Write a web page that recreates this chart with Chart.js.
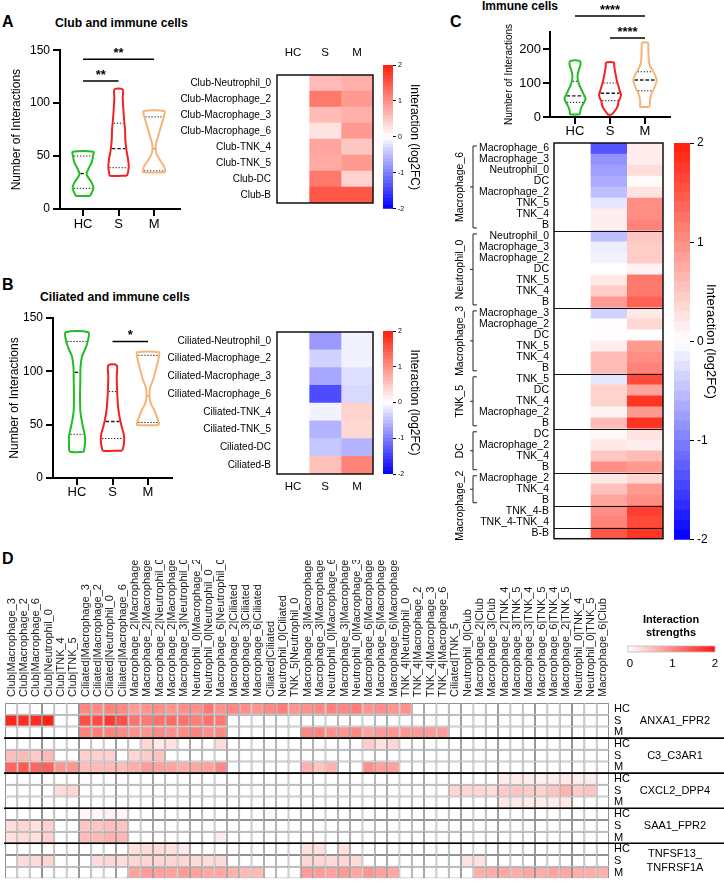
<!DOCTYPE html>
<html><head><meta charset="utf-8">
<script src="https://cdn.jsdelivr.net/npm/chart.js@4.4.1/dist/chart.umd.min.js"></script>
<style>
body{margin:0;width:724px;height:890px;position:relative;background:#fff;overflow:hidden;font-family:"Liberation Sans",Arial,sans-serif}
canvas{position:absolute}
.t{position:absolute;font-weight:bold;white-space:nowrap;color:#000;line-height:1}
</style></head><body>
<div class="t" style="left:2px;top:14px;font-size:16px">A</div>
<div class="t" style="left:55px;top:17px;font-size:12.2px">Club and immune cells</div>
<div class="t" style="left:2px;top:277px;font-size:16px">B</div>
<div class="t" style="left:40px;top:291px;font-size:12.2px">Ciliated and immune cells</div>
<div class="t" style="left:450px;top:14px;font-size:16px">C</div>
<div class="t" style="left:482px;top:0px;font-size:12px">Immune cells</div>
<div class="t" style="left:2px;top:551px;font-size:16px">D</div>

<canvas id="vA" width="200" height="200" style="left:0;top:40px"></canvas>
<canvas id="hA" width="220" height="175" style="left:160px;top:40px"></canvas>
<canvas id="cA" width="45" height="160" style="left:380px;top:55px"></canvas>
<canvas id="vB" width="200" height="200" style="left:0;top:305px"></canvas>
<canvas id="hB" width="220" height="180" style="left:160px;top:320px"></canvas>
<canvas id="cB" width="45" height="160" style="left:380px;top:321px"></canvas>
<canvas id="vC" width="200" height="145" style="left:490px;top:0"></canvas>
<canvas id="hC" width="230" height="420" style="left:440px;top:130px"></canvas>
<canvas id="cC" width="59" height="420" style="left:665px;top:130px"></canvas>
<canvas id="hD" width="724" height="330" style="left:0;top:560px"></canvas>

<script>
// ---------------- DATA ----------------
const groupLabels = ['HC','S','M'];
const groupColors = ['#22bd22','#f22222','#f5b577'];

// Panel A violins: value levels (y) and half-widths (x units)
const vA_HC_y = [12.3,13,16,19,22,26,30,33,36,40,45,50,54];
const vA_HC_w = [0.197,0.211,0.254,0.29,0.282,0.225,0.141,0.099,0.127,0.183,0.254,0.282,0.29];
const vA_S_y  = [31.5,35,40,47,55,65,75,85,95,105,113];
const vA_S_w  = [0.239,0.268,0.287,0.268,0.225,0.192,0.183,0.155,0.135,0.118,0.113];
const vA_M_y  = [34.6,36,40,46,52,57,62,70,80,88,92.5];
const vA_M_w  = [0.31,0.315,0.282,0.169,0.07,0.045,0.056,0.127,0.211,0.282,0.29];
const qA = [[19.5,33.5,50],[39,57,81],[36,57,87]];
const sigA = [{from:1,to:2,y:121,label:'**'},{from:1,to:3,y:141.5,label:'**'}];

// Panel B violins
const vB_HC_y = [24.7,32,39,48,61,76,92,104,114,121,129,136.6];
const vB_HC_w = [0.197,0.225,0.225,0.169,0.099,0.085,0.093,0.099,0.141,0.234,0.31,0.318];
const vB_S_y  = [25.6,28,33,40,47,55,65,75,85,95,105.6];
const vB_S_w  = [0.268,0.296,0.324,0.324,0.268,0.211,0.163,0.141,0.127,0.118,0.118];
const vB_M_y  = [49.7,52,57,64,70,77,85,92,104,113,117.8];
const vB_M_w  = [0.31,0.304,0.254,0.169,0.079,0.042,0.062,0.141,0.239,0.304,0.304];
const qB = [[41,99,128],[37,53,81],[52,77,115]];
const sigB = [{from:2,to:3,y:128,label:'*'}];

// Panel C violins
const vC_HC_y = [8,15,25,35,45,55,65,80,95,110,125,140,155,165];
const vC_HC_w = [0.143,0.149,0.171,0.214,0.271,0.3,0.257,0.186,0.12,0.08,0.077,0.114,0.157,0.129];
const vC_S_y  = [7,15,25,35,45,55,65,75,90,105,120,135,150,160];
const vC_S_w  = [0.057,0.114,0.186,0.229,0.243,0.286,0.314,0.286,0.243,0.2,0.171,0.143,0.12,0.114];
const vC_M_y  = [30,40,55,68,80,95,108,120,135,150,165,185,205,218];
const vC_M_w  = [0.137,0.137,0.149,0.186,0.243,0.3,0.334,0.3,0.229,0.143,0.109,0.1,0.094,0.086];
const qC = [[43,62,105],[48,70,100],[77,109,133]];
const sigC = [{from:1,to:3,y:297,label:'****'},{from:2,to:3,y:232,label:'****'}];

// Panel A heatmap (log2FC)
const heatA_rows = ['Club-Neutrophil_0','Club-Macrophage_2','Club-Macrophage_3','Club-Macrophage_6','Club-TNK_4','Club-TNK_5','Club-DC','Club-B'];
const heatA_HC = [0,0,0,0,0,0,0,0];
const heatA_S  = [0.6,1.2,0.6,0.25,0.8,0.75,1.2,1.5];
const heatA_M  = [0.7,0.9,0.7,0.9,0.5,0.9,0.4,1.5];

// Panel B heatmap
const heatB_rows = ['Ciliated-Neutrophil_0','Ciliated-Macrophage_2','Ciliated-Macrophage_3','Ciliated-Macrophage_6','Ciliated-TNK_4','Ciliated-TNK_5','Ciliated-DC','Ciliated-B'];
const heatB_HC = [0,0,0,0,0,0,0,0];
const heatB_S  = [-0.8,-0.35,-0.7,-1.4,-0.1,-0.6,-0.45,0.55];
const heatB_M  = [-0.1,-0.1,-0.25,-0.3,0.4,0.35,-0.6,1.1];

// Panel C heatmap
const heatC_rows = ['Macrophage_6','Macrophage_3','Neutrophil_0','DC','Macrophage_2','TNK_5','TNK_4','B',
  'Neutrophil_0','Macrophage_3','Macrophage_2','DC','TNK_5','TNK_4','B',
  'Macrophage_3','Macrophage_2','DC','TNK_5','TNK_4','B',
  'TNK_5','DC','TNK_4','Macrophage_2','B',
  'DC','Macrophage_2','TNK_4','B',
  'Macrophage_2','TNK_4','B',
  'TNK_4-B','TNK_4-TNK_4','B-B'];
const heatC_HC = [0,0,0,0,0,0,0,0, 0,0,0,0,0,0,0, 0,0,0,0,0,0, 0,0,0,0,0, 0,0,0,0, 0,0,0, 0,0, 0];
const heatC_S  = [-1.35,-0.85,-0.75,-0.65,-0.5,-0.2,0.15,0.15, -0.5,-0.15,-0.1,0.0,0.2,0.45,0.9, -0.35,0.02,0.02,0.15,0.6,0.6, -0.2,0.4,0.4,0.1,0.6, 0.05,0.2,0.5,1.0, 0.2,0.55,0.8, 1.0,1.1, 1.5];
const heatC_M  = [0.15,0.15,0.3,0.05,0.25,1.0,1.0,1.1, 0.5,0.45,0.45,0.1,1.2,1.2,1.4, 0.2,0.35,0.0,0.9,1.0,1.1, 1.6,0.8,1.8,0.9,1.8, 0.25,0.15,0.6,0.9, 0.35,0.9,1.0, 1.7,1.6, 1.8];
const heatC_groupNames = ['Macrophage_6','Neutrophil_0','Macrophage_3','TNK_5','DC','Macrophage_2'];
const heatC_groupSizes = [8,7,6,5,4,3];
const heatC_groupLabelRows = [8,7,6,5,4,6];
const heatC_blockSizes = [8,7,6,5,4,3,2,1];

// Panel D
const dCols = ['Club|Macrophage_3','Club|Macrophage_2','Club|Macrophage_6','Club|Neutrophil_0','Club|TNK_4','Club|TNK_5',
 'Ciliated|Macrophage_3','Ciliated|Macrophage_2','Ciliated|Neutrophil_0','Ciliated|Macrophage_6',
 'Macrophage_2|Macrophage_3','Macrophage_2|Macrophage_2','Macrophage_2|Neutrophil_0','Macrophage_2|Macrophage_6',
 'Macrophage_3|Neutrophil_0','Neutrophil_0|Macrophage_2','Neutrophil_0|Neutrophil_0','Macrophage_6|Neutrophil_0',
 'Macrophage_2|Ciliated','Macrophage_3|Ciliated','Macrophage_6|Ciliated','Ciliated|Ciliated','Neutrophil_0|Ciliated',
 'TNK_5|Neutrophil_0','Macrophage_3|Macrophage_2','Macrophage_3|Macrophage_6','Neutrophil_0|Macrophage_6',
 'Macrophage_3|Macrophage_3','Neutrophil_0|Macrophage_3','Macrophage_6|Macrophage_2','Macrophage_6|Macrophage_3',
 'Macrophage_6|Macrophage_6','TNK_4|Neutrophil_0','TNK_4|Macrophage_2','TNK_4|Macrophage_3','TNK_4|Macrophage_6',
 'Ciliated|TNK_5','Neutrophil_0|Club','Macrophage_2|Club','Macrophage_3|Club','Macrophage_2|TNK_4',
 'Macrophage_3|TNK_5','Macrophage_3|TNK_4','Macrophage_6|TNK_5','Macrophage_6|TNK_4','Macrophage_2|TNK_5',
 'Neutrophil_0|TNK_4','Neutrophil_0|TNK_5','Macrophage_6|Club'];
const dGenes = [['ANXA1_FPR2'],['C3_C3AR1'],['CXCL2_DPP4'],['SAA1_FPR2'],['TNFSF13_','TNFRSF1A']];
const dRowLabels = ['HC','S','M','HC','S','M','HC','S','M','HC','S','M','HC','S','M'];
const dANXA1_HC = [0,0,0,0,0,0,1.0,1.0,1.05,1.0, 0.85,0.9,0.95,0.9,0.95,0.95,1.15,0.95,1.0,0.95, 0.9,1.0,1.1,0.9,0.95,1.0,1.05,1.0,1.1,0.9, 0.95,0.9,0.95,0,0,0,0,0,0,0, 0,0,0,0,0,0,0,0,0];
const dANXA1_S  = [1.85,1.8,1.8,1.9,0,0,1.5,1.55,1.7,1.5, 1.2,1.15,1.2,1.25,1.2,1.1,1.2,1.15,0,0, 0,0,0,0,0,0,0,0,0,0, 0,0,0,0,0,0,0,0,0,0, 0,0,0,0,0,0,0,0,0];
const dANXA1_M  = [0,0,0,0,0,0,1.05,1.1,1.05,1.0, 0.95,0.9,1.0,0.95,1.0,1.05,0.95,1.0,0,0, 0,0,0,0,1.0,1.05,0.95,0.9,1.0,0.8, 0.85,0.9,0.9,0.85,0.85,0.85,0,0,0,0, 0,0,0,0,0,0,0,0,0];
const dC3_HC    = [0,0,0,0,0,0,0,0,0,0, 0,0.35,0.2,0.25,0,0,0,0.3,0,0, 0,0,0,0,0,0,0,0,0,0.45, 0.25,0.35,0,0,0,0,0,0,0,0, 0,0,0,0,0,0,0,0,0];
const dC3_S     = [0.55,0.6,0.45,0.6,0,0,0.4,0.4,0.4,0, 0.35,0.45,0.5,0,0,0,0,0,0,0, 0,0,0,0,0,0,0,0,0,0, 0,0,0,0,0,0,0,0,0,0, 0,0,0,0,0,0,0,0,0];
const dC3_M     = [1.3,1.4,1.3,1.35,0.9,0.9,0.55,0.6,0.6,0.55, 0.7,0.85,0.8,0.8,0.7,0.75,0.8,1.0,0,0, 0,0,0,0,0.65,0.5,0.65,0,0,0.95, 0.8,0.8,0,0,0,0,0,0,0,0, 0,0,0,0,0,0,0,0,0];
const dCXCL2_HC = [0,0,0,0,0,0,0,0,0,0, 0,0,0,0,0,0,0,0,0,0, 0,0,0,0,0,0,0,0,0,0, 0,0,0,0,0,0,0,0,0,0, 0.15,0.18,0.15,0.12,0.15,0.18,0.15,0.15,0];
const dCXCL2_S  = [0,0,0,0,0.3,0.35,0,0,0,0, 0,0,0,0,0,0,0,0,0,0, 0,0,0,0,0,0,0,0,0,0, 0,0,0,0,0,0,0.35,0.35,0.35,0.3, 0.45,0.5,0.45,0.4,0.5,0.65,0.45,0.5,0];
const dCXCL2_M  = [0,0,0,0,0,0,0,0,0,0, 0,0,0,0,0,0,0,0,0,0, 0,0,0,0,0,0,0,0,0,0, 0,0,0,0,0,0,0,0,0,0, 0.2,0.2,0.15,0.15,0.15,0.2,0,0,0];
const dSAA1_HC  = [0,0,0,0,0,0,0.08,0.08,0.12,0.08, 0,0,0,0,0,0,0,0,0,0, 0,0.06,0,0,0,0,0,0,0,0, 0,0,0,0,0,0,0,0,0,0, 0,0,0,0,0,0,0,0,0];
const dSAA1_S   = [0.3,0.35,0.25,0.4,0,0,0.5,0.5,0.55,0.5, 0,0,0,0,0,0,0,0,0,0, 0,0,0,0,0,0,0,0,0,0, 0,0,0,0,0,0,0,0,0,0, 0,0,0,0,0,0,0,0,0];
const dSAA1_M   = [0.25,0.3,0.25,0.4,0,0,0.55,0.6,0.65,0.6, 0,0,0,0,0,0,0,0.15,0,0, 0,0,0,0,0,0,0,0,0,0, 0,0,0,0,0,0,0,0,0,0, 0,0,0,0,0,0,0,0,0];
const dTNF_HC   = [0,0,0,0,0,0,0,0,0,0, 0.25,0.3,0.3,0.25,0.2,0,0,0,0,0, 0,0,0,0,0.25,0.25,0,0.25,0,0, 0,0,0,0,0,0,0,0,0,0, 0,0,0,0,0,0,0,0,0];
const dTNF_S    = [0,0.3,0.3,0.35,0,0,0,0.3,0.35,0.3, 0.35,0.35,0.35,0.35,0.35,0.3,0.3,0.3,0,0, 0,0,0,0,0.35,0.35,0.3,0.35,0.3,0, 0,0,0,0,0,0,0,0.25,0.25,0, 0,0,0,0,0,0,0,0,0];
const dTNF_M    = [0,0,0,0,0,0,0,0,0,0, 0.8,0.85,0.8,0.8,0.85,0.8,0.75,0.75,0.65,0.6, 0.6,0,0,0,0.85,0.85,0.8,0.85,0.75,0.9, 0.8,0.75,0,0,0,0,0,0,0.7,0.7, 0.75,0.7,0.75,0.7,0.8,0.75,0.7,0.7,0.65];

// ---------------- HELPERS ----------------
const FONT = '"Liberation Sans", Arial, Helvetica, sans-serif';
Chart.defaults.font.family = FONT;
Chart.defaults.color = '#000';
Chart.defaults.animation = false;

function colorFC(v){
  v = Math.max(-2, Math.min(2, v));
  if (v >= 0){ const t=v/2; return `rgb(255,${Math.round(255-225*t)},${Math.round(255-245*t)})`; }
  const t=-v/2; return `rgb(${Math.round(255-255*t)},${Math.round(255-255*t)},255)`;
}
function colorD(v){
  const t = Math.max(0, Math.min(1, v/2));
  return `rgb(255,${Math.round(255-235*t)},${Math.round(255-245*t)})`;
}
function fixedScale(size){ return s => { if (s.isHorizontal()) s.height = size; else s.width = size; }; }
function widthAt(g, q){
  for (let k=0;k<g.y.length-1;k++){
    if (q>=g.y[k] && q<=g.y[k+1]){ const t=(q-g.y[k])/(g.y[k+1]-g.y[k]); return g.w[k]+(g.w[k+1]-g.w[k])*t; }
  }
  return g.w[0];
}
function sigPlugin(items){
  return {id:'sig', afterDatasetsDraw(chart){
    const {ctx, scales:{x,y}} = chart;
    ctx.save(); ctx.font = `bold 13px ${FONT}`; ctx.fillStyle='#000'; ctx.textAlign='center'; ctx.textBaseline='alphabetic';
    items.forEach(s => ctx.fillText(s.label, (x.getPixelForValue(s.from)+x.getPixelForValue(s.to))/2, y.getPixelForValue(s.y)-2));
    ctx.restore();
  }};
}
function makeViolin(id, groups, quart, sigs, c){
  const datasets = [];
  groups.forEach((g,i)=>{
    const cx=i+1, pts=[];
    for (let k=0;k<g.y.length;k++) pts.push({x:cx+g.w[k], y:g.y[k]});
    for (let k=g.y.length-1;k>=0;k--) pts.push({x:cx-g.w[k], y:g.y[k]});
    pts.push({x:cx+g.w[0], y:g.y[0]});
    datasets.push({data:pts, borderColor:groupColors[i], borderWidth:2, pointRadius:0, tension:0.3, clip:false, fill:false, borderJoinStyle:'round'});
    quart[i].forEach((q,j)=>{
      const hw = Math.max(0.01, widthAt(g,q)-0.03);
      datasets.push({data:[{x:cx-hw,y:q},{x:cx+hw,y:q}], borderColor:'#1a1a1a', borderWidth: j===1?1.4:1, borderDash: j===1?[3.5,2]:[1.3,1.7], pointRadius:0, tension:0, clip:false});
    });
  });
  sigs.forEach(s => datasets.push({data:[{x:s.from,y:s.y},{x:s.to,y:s.y}], borderColor:'#000', borderWidth:1.5, pointRadius:0, tension:0, clip:false}));
  const axisGrid = {display:true, drawOnChartArea:false, drawTicks:true, tickLength:7, color:'#000', lineWidth:2};
  return new Chart(document.getElementById(id), {type:'line', data:{datasets}, options:{
    responsive:false, animation:false,
    layout:{padding:{top:c.padTop, right:c.padRight, left:0, bottom:0}},
    plugins:{legend:{display:false}, tooltip:{enabled:false}},
    scales:{
      x:{type:'linear', min:c.xMin, max:c.xMax,
         afterBuildTicks: s => { s.ticks = [1,2,3].map(v=>({value:v})); },
         ticks:{callback:(v,i)=>groupLabels[i], font:{size:c.xFont}, color:'#000', padding:c.xPad, autoSkip:false, maxRotation:0},
         grid:axisGrid, border:{display:true, color:'#000', width:2}, afterFit:fixedScale(c.xAxisH)},
      y:{type:'linear', min:0, max:c.yMax,
         ticks:{stepSize:c.yStep, font:{size:c.yFont}, color:'#000', padding:c.yPad},
         grid:axisGrid, border:{display:true, color:'#000', width:2},
         title:{display:true, text:'Number of Interactions', font:{size:c.titleSize}, color:'#000', padding:{top:c.titlePad, bottom:0}},
         afterFit:fixedScale(c.yAxisW)}
    }}, plugins:[sigPlugin(sigs)]});
}
const framePlugin = {id:'frame', afterDatasetsDraw(chart){
  const {ctx, chartArea:a} = chart; ctx.save(); ctx.strokeStyle='#111'; ctx.lineWidth=1.5;
  ctx.strokeRect(a.left, a.top, a.right-a.left, a.bottom-a.top); ctx.restore();
}};
function makeHeat(id, rows, cols, c, extra){
  const datasets = cols.map(vals => ({data: vals.map(()=>1), backgroundColor: vals.map(colorFC), borderWidth:0, barPercentage:1, categoryPercentage:1}));
  return new Chart(document.getElementById(id), {type:'bar', data:{labels:rows, datasets}, options:{
    indexAxis:'y', responsive:false, animation:false,
    layout:{padding:c.pad},
    plugins:{legend:{display:false}, tooltip:{enabled:false}},
    scales:{
      x:{type:'linear', position:c.colPos, stacked:true, min:0, max:3, display:c.showCols,
         afterBuildTicks: s => { s.ticks = [0.5,1.5,2.5].map(v=>({value:v})); },
         ticks:{callback:(v,i)=>groupLabels[i], font:{size:11.5}, color:'#000', padding:c.colPad, autoSkip:false, maxRotation:0},
         grid:{display:false, drawTicks:false}, border:{display:false}, afterFit:fixedScale(c.colH)},
      y:{type:'category', stacked:true,
         ticks:{autoSkip:false, font:{size:c.rowFont}, color:'#000', padding:c.rowPad},
         grid:{display:false, drawTicks:false}, border:{display:false}, afterFit:fixedScale(c.rowW)}
    }}, plugins:[framePlugin].concat(extra||[])});
}
function makeColorbar(id, c){
  const datasets = [];
  for (let i=0;i<40;i++){ const lo=-2+i*0.1; datasets.push({data:[[lo,lo+0.1]], backgroundColor:colorFC(lo+0.05), borderWidth:0, grouped:false, barPercentage:1, categoryPercentage:1}); }
  datasets.push({data:[[1.95,2]], backgroundColor:'#1a1aff', borderWidth:0, grouped:false, barPercentage:1, categoryPercentage:1});
  return new Chart(document.getElementById(id), {type:'bar', data:{labels:[''], datasets}, options:{
    responsive:false, animation:false, layout:{padding:c.pad},
    plugins:{legend:{display:false}, tooltip:{enabled:false}},
    scales:{
      x:{display:false},
      y:{position:'right', min:-2, max:2, ticks:{stepSize:1, font:{size:c.tickFont}, color:'#000', padding:c.tickPad},
         grid:{display:true, drawOnChartArea:false, tickLength:c.tickLen, color:'#000', lineWidth:1}, border:{display:false},
         title:{display:true, text:'Interaction (log2FC)', font:{size:c.titleFont}, color:'#000', padding:{top:c.titlePad, bottom:0}},
         afterFit:fixedScale(c.axisW)}
    }}});
}

// ---------------- PANEL A ----------------
makeViolin('vA', [{y:vA_HC_y,w:vA_HC_w},{y:vA_S_y,w:vA_S_w},{y:vA_M_y,w:vA_M_w}], qA, sigA,
  {padTop:10, padRight:20, xMin:0.352, xMax:3.73, xFont:13, xPad:1, xAxisH:31, yMax:150, yStep:50, yFont:12, yPad:3, titleSize:12, titlePad:9, yAxisW:60});
makeHeat('hA', heatA_rows, [heatA_HC, heatA_S, heatA_M],
  {pad:{top:0,right:7,bottom:6,left:0}, colPos:'top', showCols:true, colPad:15, colH:35, rowFont:10, rowPad:6, rowW:117});
makeColorbar('cA', {pad:{top:10,right:0,bottom:6,left:3}, tickFont:7, tickPad:2, tickLen:3, titleFont:12, titlePad:3, axisW:32});

// ---------------- PANEL B ----------------
makeViolin('vB', [{y:vB_HC_y,w:vB_HC_w},{y:vB_S_y,w:vB_S_w},{y:vB_M_y,w:vB_M_w}], qB, sigB,
  {padTop:13, padRight:28, xMin:0.324, xMax:3.676, xFont:13, xPad:0, xAxisH:27, yMax:150, yStep:50, yFont:12, yPad:3, titleSize:12, titlePad:7, yAxisW:53});
makeHeat('hB', heatB_rows, [heatB_HC, heatB_S, heatB_M],
  {pad:{top:12,right:7,bottom:0,left:0}, colPos:'bottom', showCols:true, colPad:6, colH:26, rowFont:10, rowPad:6, rowW:117});
makeColorbar('cB', {pad:{top:10,right:0,bottom:7,left:3}, tickFont:7, tickPad:2, tickLen:3, titleFont:12, titlePad:3, axisW:32});

// ---------------- PANEL C ----------------
makeViolin('vC', [{y:vC_HC_y,w:vC_HC_w},{y:vC_S_y,w:vC_S_w},{y:vC_M_y,w:vC_M_w}], qC, sigC,
  {padTop:32, padRight:20, xMin:0.286, xMax:3.714, xFont:13, xPad:0, xAxisH:28, yMax:250, yStep:50, yFont:13, yPad:2, titleSize:10, titlePad:13, yAxisW:60});

const heatCPlugin = {id:'heatC', afterDatasetsDraw(chart){
  const {ctx, chartArea:a, scales:{y}} = chart;
  const band = y.getPixelForValue(1) - y.getPixelForValue(0);
  const top = i => y.getPixelForValue(i) - band/2;
  ctx.save();
  ctx.strokeStyle='#111'; ctx.lineWidth=1;
  let acc = 0;
  heatC_blockSizes.slice(0,-1).forEach(n => { acc += n; const yy = Math.round(top(acc))+0.5; ctx.beginPath(); ctx.moveTo(a.left, yy); ctx.lineTo(a.right, yy); ctx.stroke(); });
  const xb = a.left - 81;
  let s = 0;
  ctx.lineWidth = 1; ctx.strokeStyle = '#222';
  heatC_groupNames.forEach((name, gi) => {
    const y0 = top(s) + 3, y1 = top(s + heatC_groupSizes[gi]) - 3, ym = (y0+y1)/2;
    ctx.beginPath();
    ctx.moveTo(xb+4, y0); ctx.lineTo(xb, y0); ctx.lineTo(xb, y1); ctx.lineTo(xb+4, y1);
    ctx.moveTo(xb, ym); ctx.lineTo(xb-3, ym);
    ctx.stroke();
    const yl = (top(s) + top(s + heatC_groupLabelRows[gi])) / 2;
    ctx.save(); ctx.translate(xb-13, yl); ctx.rotate(-Math.PI/2);
    ctx.font = `10.5px ${FONT}`; ctx.fillStyle = '#000'; ctx.textAlign='center'; ctx.textBaseline='middle';
    ctx.fillText(name, 0, 0); ctx.restore();
    s += heatC_groupSizes[gi];
  });
  ctx.restore();
}};
makeHeat('hC', heatC_rows, [heatC_HC, heatC_S, heatC_M],
  {pad:{top:13,right:7,bottom:10,left:0}, colPos:'top', showCols:false, colPad:0, colH:0, rowFont:10.5, rowPad:5, rowW:114}, [heatCPlugin]);
makeColorbar('cC', {pad:{top:13,right:0,bottom:10,left:9}, tickFont:12, tickPad:3, tickLen:4, titleFont:13, titlePad:6, axisW:34});

// ---------------- PANEL D ----------------
const dRows = [dANXA1_HC,dANXA1_S,dANXA1_M, dC3_HC,dC3_S,dC3_M, dCXCL2_HC,dCXCL2_S,dCXCL2_M, dSAA1_HC,dSAA1_S,dSAA1_M, dTNF_HC,dTNF_S,dTNF_M];
const dPlugin = {id:'dDecor', afterDatasetsDraw(chart){
  const {ctx, chartArea:a, scales:{x,y}} = chart;
  ctx.save();
  ctx.font = `11px ${FONT}`; ctx.fillStyle='#1a1a1a'; ctx.textAlign='left'; ctx.textBaseline='middle';
  dCols.forEach((lab,i) => { ctx.save(); ctx.translate(x.getPixelForValue(i)+0.5, a.top-6); ctx.rotate(-Math.PI/2); ctx.fillText(lab,0,0); ctx.restore(); });
  ctx.strokeStyle='#000'; ctx.lineWidth=1.6;
  [3,6,9,12].forEach(r => { const yy=y.getPixelForValue(r); ctx.beginPath(); ctx.moveTo(a.left-1,yy); ctx.lineTo(chart.width,yy); ctx.stroke(); });
  ctx.fillStyle='#000'; ctx.textAlign='center'; ctx.font=`11px ${FONT}`;
  dGenes.forEach((lines,gi) => { const yc=y.getPixelForValue(gi*3+1.5); lines.forEach((ln,li)=>ctx.fillText(ln, 675, yc + (li-(lines.length-1)/2)*14)); });
  ctx.font = `bold 11px ${FONT}`; ctx.fillText('Interaction', 671, 60); ctx.fillText('strengths', 671, 73);
  const gx0=628, gx1=715, gy=86, gh=6;
  const grad = ctx.createLinearGradient(gx0,0,gx1,0);
  grad.addColorStop(0, colorD(0)); grad.addColorStop(0.5, colorD(1)); grad.addColorStop(1, colorD(2));
  ctx.fillStyle=grad; ctx.fillRect(gx0,gy,gx1-gx0,gh);
  ctx.strokeStyle='#bbb'; ctx.lineWidth=0.8; ctx.strokeRect(gx0,gy,gx1-gx0,gh);
  ctx.fillStyle='#000'; ctx.font=`11.5px ${FONT}`;
  ['0','1','2'].forEach((t,i)=>ctx.fillText(t, gx0+2+i*(gx1-gx0-2)/2, 104));
  ctx.restore();
}};
new Chart(document.getElementById('hD'), {type:'bar', data:{labels:dCols,
  datasets: dRows.map(r => ({data:r.map(()=>1), backgroundColor:r.map(colorD), borderColor:'#929292', borderWidth:1, borderSkipped:false, barPercentage:1, categoryPercentage:1, inflateAmount:0}))},
  options:{responsive:false, animation:false, layout:{padding:{left:5,top:0,right:0,bottom:3}},
    plugins:{legend:{display:false}, tooltip:{enabled:false}},
    scales:{
      x:{type:'category', position:'top', stacked:true, ticks:{display:false}, grid:{display:false, drawTicks:false}, border:{display:false}, afterFit:fixedScale(143)},
      y:{type:'linear', stacked:true, min:0, max:15, reverse:true, display:false},
      yr:{type:'category', labels:dRowLabels, position:'right', offset:true, grid:{display:false, drawTicks:false}, border:{display:false},
          ticks:{font:{size:11}, color:'#000', padding:5, autoSkip:false}, afterFit:fixedScale(115)}
    }}, plugins:[dPlugin]});
</script>
</body></html>
